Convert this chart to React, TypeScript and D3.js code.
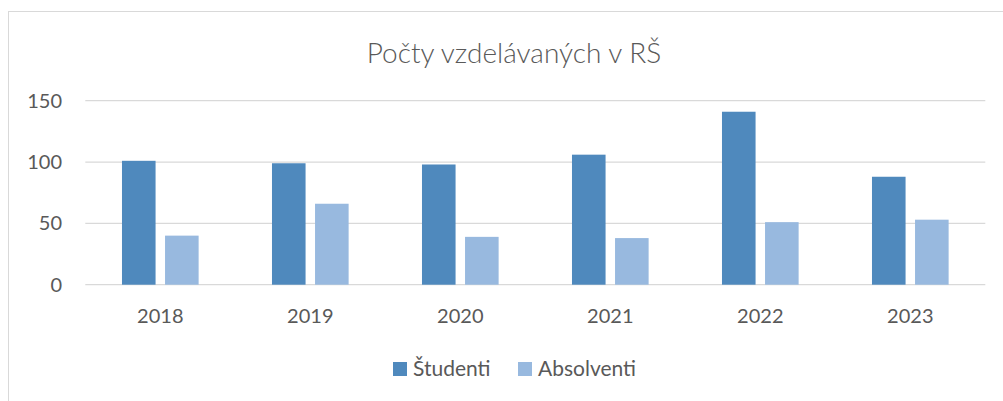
import { useEffect, useRef } from 'react';
import * as d3 from 'd3';

const years = ['2018', '2019', '2020', '2021', '2022', '2023'];
const series = ['Študenti', 'Absolventi'];
const studenti = [101, 99, 98, 106, 141, 88];
const absolventi = [40, 66, 39, 38, 51, 53];
const yTicks = [0, 50, 100, 150];
const colors = ['#4F89BD', '#98B9DF'];

const width = 1003;
const height = 401;
const margin = { top: 100.7, right: 17.7, bottom: 116.3, left: 85.3 };
const font = 'Lato, "DejaVu Sans", sans-serif';

const App = () => {
  const ref = useRef<SVGSVGElement>(null);

  useEffect(() => {
    const svg = d3.select(ref.current);
    svg.selectAll('*').remove();

    // chart frame, runs off right and bottom edge like the original
    svg.append('rect')
      .attr('x', 8.5).attr('y', 11.5)
      .attr('width', width + 20).attr('height', height + 20)
      .attr('fill', '#fff').attr('stroke', '#D9D9D9');

    const x = d3.scaleBand()
      .domain(years)
      .range([margin.left, width - margin.right])
      .paddingInner(0.489)
      .paddingOuter(0.2445);

    const xs = d3.scaleBand()
      .domain(series)
      .range([0, x.bandwidth()])
      .paddingInner(0.22);

    const y = d3.scaleLinear()
      .domain([0, 150])
      .range([height - margin.bottom, margin.top]);

    // gridlines
    svg.append('g')
      .selectAll('line')
      .data(yTicks)
      .join('line')
      .attr('x1', margin.left).attr('x2', width - margin.right)
      .attr('y1', d => y(d)).attr('y2', d => y(d))
      .attr('stroke', '#D9D9D9').attr('stroke-width', 1.3);

    svg.append('g')
      .selectAll('text')
      .data(yTicks)
      .join('text')
      .attr('x', 62)
      .attr('y', d => y(d))
      .attr('dy', '0.35em')
      .attr('text-anchor', 'end')
      .attr('font-family', font).attr('font-size', 20)
      .attr('fill', '#595959')
      .text(d => d);

    const vals = [studenti, absolventi];
    series.forEach((s, si) => {
      svg.append('g')
        .selectAll('rect')
        .data(years)
        .join('rect')
        .attr('x', d => (x(d) ?? 0) + (xs(s) ?? 0))
        .attr('width', xs.bandwidth())
        .attr('y', (d, i) => y(vals[si][i]))
        .attr('height', (d, i) => y(0) - y(vals[si][i]))
        .attr('fill', colors[si]);
    });

    svg.append('g')
      .selectAll('text')
      .data(years)
      .join('text')
      .attr('x', d => (x(d) ?? 0) + x.bandwidth() / 2)
      .attr('y', 323)
      .attr('text-anchor', 'middle')
      .attr('font-family', font).attr('font-size', 20)
      .attr('fill', '#595959')
      .text(d => d);

    svg.append('text')
      .attr('x', 514).attr('y', 63)
      .attr('text-anchor', 'middle')
      .attr('font-family', font).attr('font-size', 28).attr('font-weight', 300)
      .attr('fill', '#595959')
      .text('Počty vzdelávaných v RŠ');

    // legend
    const legendX = [393, 518];
    const lg = svg.append('g')
      .selectAll('g')
      .data(series)
      .join('g')
      .attr('transform', (d, i) => `translate(${legendX[i]},362)`);
    lg.append('rect')
      .attr('width', 14).attr('height', 14)
      .attr('fill', (d, i) => colors[i]);
    lg.append('text')
      .attr('x', 20).attr('y', 7).attr('dy', '0.35em')
      .attr('font-family', font).attr('font-size', 21)
      .attr('fill', '#595959')
      .text(d => d);
  }, []);

  return (
    <svg ref={ref} width={width} height={height}
      style={{ position: 'absolute', left: 0, top: 0, background: '#fff' }} />
  );
};

export default App;
